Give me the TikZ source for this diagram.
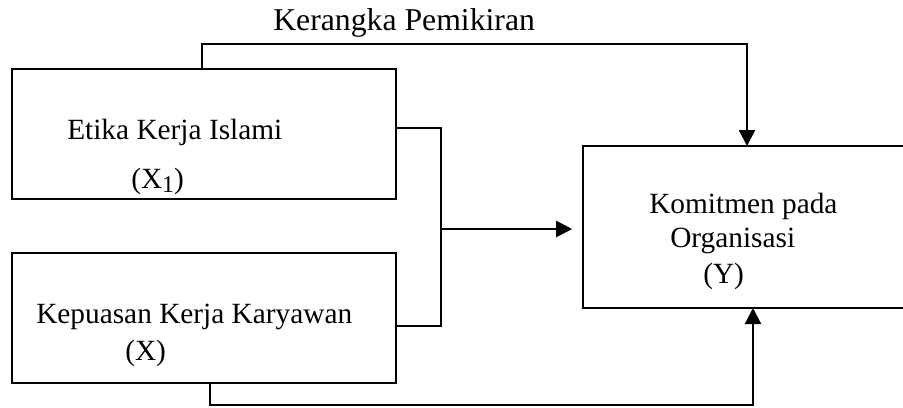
\documentclass[tikz,border=0pt]{standalone}
\usepackage{fontspec}
\setmainfont{Liberation Serif}
\usetikzlibrary{arrows.meta}
\tikzset{
  kotak/.style={draw, line width=1.2pt, inner sep=0pt},
  panah/.style={line width=1.6pt, -{Triangle[width=12pt,length=12pt]}},
  teks/.style={anchor=base west, inner sep=0pt, font=\fontsize{22}{26}\selectfont}
}
\begin{document}
\begin{tikzpicture}[x=0.75pt, y=-0.75pt]
        \clip (0,0) rectangle (903,407);
        % kotak
        \node[kotak, minimum width=288pt, minimum height=97.5pt] (x1) at (204,134) {};
        \node[kotak, minimum width=288pt, minimum height=97.5pt] (x2) at (204,318) {};
        \node[kotak, minimum width=245.25pt, minimum height=121.5pt] (y) at (746.5,227) {};
        % teks
        \node[teks, font=\fontsize{23.8}{28}\selectfont] (judul) at (273,30) {Kerangka Pemikiran};
        \node[teks] (etika) at (67,139) {Etika Kerja Islami};
        \node[teks] (lx1) at (131,188) {(X\raisebox{-0.3ex}{\fontsize{18}{18}\selectfont 1})};
        \node[teks] (puas) at (36,323) {Kepuasan Kerja Karyawan};
        \node[teks] (lx2) at (125,360) {(X)};
        \node[teks] (komit) at (649,213) {Komitmen pada};
        \node[teks] (org) at (670,247) {Organisasi};
        \node[teks] (ly) at (703,283) {(Y)};
        % garis penghubung
        \coordinate (atas) at (202,44);
        \coordinate (bawah) at (210,405);
        \coordinate (ytop) at (747,146);
        \coordinate (ybot) at (753,308);
        \coordinate (j1) at (441,128);
        \coordinate (j2) at (441,326);
        \coordinate (j) at (441,229);
        \draw[panah] (x1.north -| atas) -- (atas) -| (ytop);
        \draw[panah] (x2.south -| bawah) -- (bawah) -| (ybot);
        \draw[line width=1.2pt] (x1.east |- j1) -- (j1) -- (j2) -- (x2.east |- j2);
        \draw[panah, shorten >=7.5pt] (j) -- (y.west |- j);
\end{tikzpicture}
\end{document}
